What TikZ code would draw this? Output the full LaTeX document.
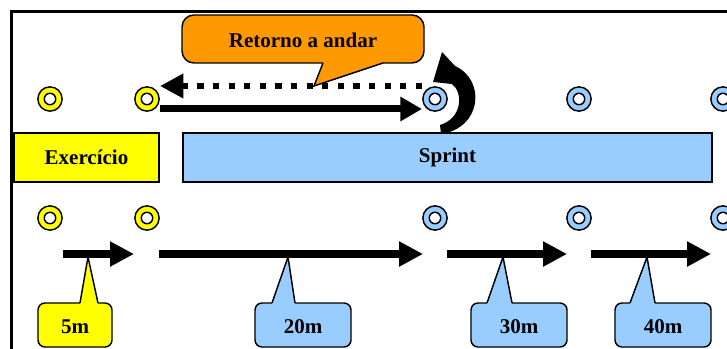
\documentclass[tikz,border=0pt]{standalone}
\usepackage{fontspec}
\setmainfont{Liberation Serif}
\usetikzlibrary{arrows.meta}
\definecolor{cyel}{HTML}{FFFF00}
\definecolor{cblue}{HTML}{99CCFF}
\definecolor{corange}{HTML}{FF9900}
\begin{document}
\begin{tikzpicture}[x=0.75pt,y=-0.75pt,
  lbl/.style={font=\bfseries\fontsize{15.75}{18}\selectfont, inner sep=0pt},
  cbox/.style={draw=black, line width=1.1pt},
  cone/.style={circle, draw=black, line width=1.1pt, fill=#1, minimum size=18.2pt, inner sep=0pt,
    path picture={\draw[fill=white, line width=1.1pt] (path picture bounding box.center) circle (4.3pt);}},
  runarrow/.style={line width=6pt, -{Triangle[length=18pt,width=17.8pt]}},
  toparrow/.style={line width=5.25pt, -{Triangle[length=16.3pt,width=17.5pt]}},
  backarrow/.style={line width=4.5pt, dash pattern=on 4.6pt off 7.1pt, -{Triangle[length=17.5pt,width=17.5pt]}}
]
\useasboundingbox (0,0) rectangle (727,349);
\clip (0,0) rectangle (727,349);

% frame
\draw[line width=2.25pt] (11.5,352) -- (11.5,11.5) -- (730,11.5);

% boxes
\node[cbox, fill=cyel, minimum width=108.75pt, minimum height=36.75pt, inner sep=0pt] (ex) at (86.5,157.5) {};
\node[lbl] (extext) at (86.5,157.5) {Exercício};
\node[cbox, fill=cblue, minimum width=396.75pt, minimum height=36.75pt, inner sep=0pt] (sp) at (447.5,157.5) {};
\node[lbl] (sptext) at (447.5,157.5) {Sprint};

% top callout
\draw[cbox, fill=corange, rounded corners=9pt] (182,15) rectangle (424,63);
\fill[corange] (323.5,61) -- (323,63) -- (314,86) -- (383,63) -- (380,61) -- cycle;
\draw[cbox] (323,63) -- (314,86) -- (383,63);
\node[lbl] (ret) at (303,40) {Retorno a andar};

% top arrows
\coordinate (da1) at (422,86);
\coordinate (da2) at (160,86);
\draw[backarrow] (da1) -- (da2);
\coordinate (ta1) at (160,109);
\coordinate (ta2) at (422,109);
\draw[toparrow] (ta1) -- (ta2);

% U-turn arrow
\fill (441,134) .. controls (482,128) and (486,80) .. (455,66) -- (442,52) -- (433,82) -- (452,84)
  .. controls (463,92) and (463,118) .. (440,125) -- cycle;

% cones top row
\node[cone=cyel] (t1) at (50,99) {};
\node[cone=cyel] (t2) at (147,99) {};
\node[cone=cblue] (t3) at (435,99) {};
\node[cone=cblue] (t4) at (579,99) {};
\node[cone=cblue] (t5) at (723,99) {};
% cones bottom row
\node[cone=cyel] (b1) at (50,218) {};
\node[cone=cyel] (b2) at (147,218) {};
\node[cone=cblue] (b3) at (435,218) {};
\node[cone=cblue] (b4) at (579,218) {};
\node[cone=cblue] (b5) at (723,218) {};

% run arrows
\coordinate (r1a) at (63,254);  \coordinate (r1b) at (134,254);
\coordinate (r2a) at (159,254); \coordinate (r2b) at (423,254);
\coordinate (r3a) at (447,254); \coordinate (r3b) at (567,254);
\coordinate (r4a) at (591,254); \coordinate (r4b) at (711,254);
\draw[runarrow] (r1a) -- (r1b);
\draw[runarrow] (r2a) -- (r2b);
\draw[runarrow] (r3a) -- (r3b);
\draw[runarrow] (r4a) -- (r4b);

% distance callouts
\foreach \n/\xa/\xb/\pa/\pb/\pt/\col/\lab in
  {5/38/112/80/98/88/cyel/5m, 20/255/351/272/295/288/cblue/20m,
   30/471/567/487/512/503/cblue/30m, 40/615/711/630/655/647/cblue/40m} {
  \draw[cbox, fill=\col, rounded corners=5.25pt] (\xa,303) rectangle (\xb,347);
  \fill[\col] (\pa+0.6,305) -- (\pa,303) -- (\pt,257) -- (\pb,303) -- (\pb-0.6,305) -- cycle;
  \draw[cbox] (\pa,303) -- (\pt,257) -- (\pb,303);
  \node[lbl] (m\n) at ({(\xa+\xb)/2},327) {\lab};
}
\end{tikzpicture}
\end{document}
